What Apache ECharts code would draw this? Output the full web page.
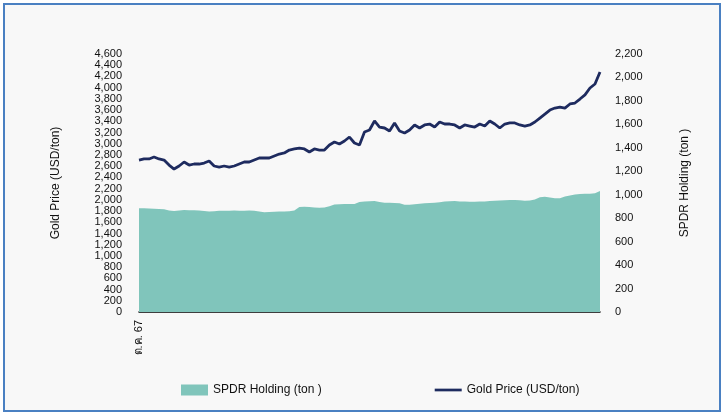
<!DOCTYPE html>
<html lang="th">
<head>
  <meta charset="UTF-8">
  <title>Gold Price vs SPDR Holding</title>
  <style>
    * { margin: 0; padding: 0; }
    html, body { width: 723px; height: 412px; background: #ffffff; overflow: hidden; }
    #frame {
      position: absolute; left: 3px; top: 3px; width: 714px; height: 405px;
      border: 2px solid #4a80c2; background: #f8f8f8;
    }
    #main { position: absolute; left: 0; top: 0; width: 723px; height: 412px; }
  </style>
</head>
<body>
  <div id="frame"></div>
  <div id="main"></div>
  <script src="https://cdn.jsdelivr.net/npm/echarts@6/dist/echarts.min.js"></script>
  <script>
    // tick labels on both value axes
    var leftMax = 4600, leftStep = 200;
    var rightMax = 2200, rightStep = 200;

    // SPDR holding (area, read on left scale)
    var spdrHolding = [
      1849, 1850, 1845, 1842, 1838, 1830, 1808, 1803, 1810, 1818,
      1815, 1812, 1808, 1800, 1790, 1795, 1806, 1806, 1805, 1808,
      1806, 1806, 1808, 1805, 1790, 1778, 1782, 1786, 1790, 1792,
      1798, 1810, 1870, 1877, 1870, 1862, 1858, 1865, 1885, 1918,
      1922, 1925, 1924, 1926, 1960, 1970, 1976, 1979, 1962, 1950,
      1948, 1945, 1940, 1910, 1912, 1922, 1932, 1938, 1942, 1948,
      1958, 1968, 1975, 1978, 1972, 1968, 1967, 1966, 1968, 1970,
      1978, 1985, 1988, 1992, 1996, 1997, 1992, 1985, 1986, 2005,
      2045, 2055, 2042, 2030, 2028, 2060, 2078, 2095, 2104, 2108,
      2110, 2116, 2157
    ];

    // gold price (line, read on right scale)
    var goldPrice = [
      1296, 1305, 1305, 1322, 1305, 1296, 1253, 1219, 1245, 1279,
      1253, 1262, 1262, 1270, 1288, 1245, 1236, 1245, 1236, 1245,
      1262, 1279, 1279, 1296, 1313, 1313, 1313, 1330, 1347, 1356,
      1381, 1390, 1398, 1390, 1364, 1390, 1381, 1381, 1424, 1450,
      1433, 1458, 1492, 1441, 1424, 1535, 1552, 1629, 1577, 1569,
      1543, 1612, 1543, 1526, 1552, 1595, 1569, 1595, 1603, 1577,
      1620, 1603, 1603, 1595, 1569, 1595, 1586, 1577, 1603, 1586,
      1629, 1603, 1569, 1603, 1612, 1612, 1595, 1586, 1595, 1620,
      1654, 1688, 1722, 1739, 1748, 1739, 1774, 1782, 1816, 1851,
      1910, 1944, 2047
    ];

    // only the first date is labelled
    var firstLabel = 'ต.ค. 67';
    var categories = goldPrice.map(function (v, i) { return i === 0 ? firstLabel : ''; });

    var fontFam = '"Liberation Sans", Arial, sans-serif';
    var chart = echarts.init(document.getElementById('main'));

    var option = {
      backgroundColor: 'transparent',
      textStyle: { fontFamily: fontFam, color: '#111' },
      animation: false,
      grid: { left: 139, right: 123, top: 54, bottom: 100 },
      legend: {
        bottom: 11,
        left: 176,
        itemGap: 113,
        itemWidth: 27,
        itemHeight: 11,
        textStyle: { fontSize: 12, color: '#111', fontFamily: fontFam },
        data: [
          { name: 'SPDR Holding (ton )', icon: 'rect' },
          { name: 'Gold Price (USD/ton)', icon: 'path://M0,4 L30,4 L30,7 L0,7 Z' }
        ]
      },
      xAxis: {
        type: 'category',
        data: categories,
        boundaryGap: false,
        axisLine: { lineStyle: { color: '#000', width: 1.5 } },
        axisTick: { show: false },
        axisLabel: { interval: 0, rotate: 90, fontSize: 11, color: '#111', margin: 8 }
      },
      yAxis: [
        {
          type: 'value',
          min: 0, max: leftMax, interval: leftStep,
          name: 'Gold Price (USD/ton)',
          nameLocation: 'middle',
          nameRotate: 90,
          nameGap: 77,
          nameTextStyle: { fontSize: 12, color: '#111' },
          axisLine: { show: false },
          axisTick: { show: false },
          splitLine: { show: false },
          axisLabel: {
            fontSize: 11, color: '#111', margin: 17,
            formatter: function (v) { return v.toLocaleString('en-US'); }
          }
        },
        {
          type: 'value',
          min: 0, max: rightMax, interval: rightStep,
          position: 'right',
          name: 'SPDR Holding (ton )',
          nameLocation: 'middle',
          nameRotate: 90,
          nameGap: 79,
          nameTextStyle: { fontSize: 12, color: '#111' },
          axisLine: { show: false },
          axisTick: { show: false },
          splitLine: { show: false },
          axisLabel: {
            fontSize: 11, color: '#111', margin: 15,
            formatter: function (v) { return v.toLocaleString('en-US'); }
          }
        }
      ],
      series: [
        {
          name: 'SPDR Holding (ton )',
          type: 'line',
          yAxisIndex: 0,
          data: spdrHolding,
          symbol: 'none',
          lineStyle: { width: 0 },
          itemStyle: { color: '#80c5bb' },
          areaStyle: { color: '#80c5bb', opacity: 1 },
          z: 1
        },
        {
          name: 'Gold Price (USD/ton)',
          type: 'line',
          yAxisIndex: 1,
          data: goldPrice,
          symbol: 'none',
          lineStyle: { color: '#1e2b5f', width: 2.8 },
          itemStyle: { color: '#1e2b5f' },
          z: 3
        }
      ]
    };

    chart.setOption(option);
  </script>
</body>
</html>
